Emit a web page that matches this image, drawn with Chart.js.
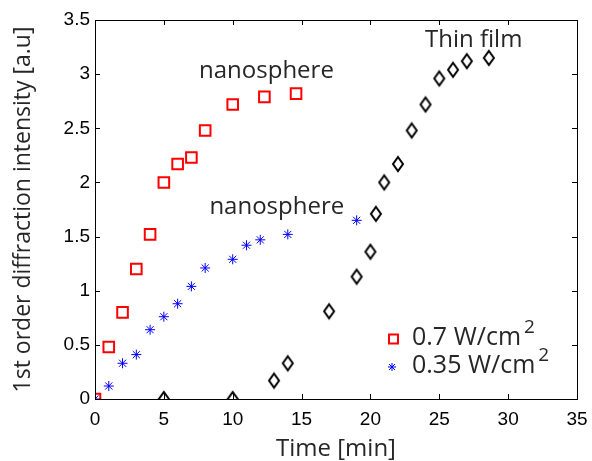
<!DOCTYPE html>
<html>
<head>
<meta charset="utf-8">
<script src="https://cdn.jsdelivr.net/npm/chart.js@4.4.0/dist/chart.umd.min.js"></script>
<style>
html, body { margin: 0; padding: 0; background: #fff; }
</style>
</head>
<body>
<canvas id="chart" width="592" height="461"></canvas>
<script>
// 0.7 W/cm2 (red squares)
const redTime = [0, 1, 2, 3, 4, 5, 6, 7, 8, 10, 12.3, 14.6];
const redValue = [0, 0.48, 0.8, 1.2, 1.52, 2.0, 2.17, 2.23, 2.48, 2.72, 2.79, 2.82];

// 0.35 W/cm2 (blue stars)
const blueTime = [0, 1, 2, 3, 4, 5, 6, 7, 8, 10, 11, 12, 14, 19];
const blueValue = [0, 0.12, 0.33, 0.41, 0.64, 0.76, 0.88, 1.04, 1.21, 1.29, 1.42, 1.47, 1.52, 1.65];

// thin film (black diamonds)
const filmTime = [5, 10, 13, 14, 17, 19, 20, 20.4, 21, 22, 23, 24, 25, 26, 27, 28.6];
const filmValue = [0, 0, 0.17, 0.33, 0.81, 1.13, 1.36, 1.71, 2.0, 2.17, 2.48, 2.72, 2.96, 3.04, 3.12, 3.15];

const xTicks = [0, 5, 10, 15, 20, 25, 30, 35];
const yTicks = [0, 0.5, 1, 1.5, 2, 2.5, 3, 3.5];

const textFont = '"Open Sans", "Noto Sans", sans-serif';
const tickFont = '"Liberation Sans", Arial, sans-serif';

function toPoints(xs, ys) {
	return xs.map((x, i) => ({ x: x, y: ys[i] }));
}

// MATLAB style diamond, a bit taller than wide
function diamondImage() {
	const c = document.createElement('canvas');
	c.width = 16; c.height = 20;
	const g = c.getContext('2d');
	g.strokeStyle = '#000';
	g.lineWidth = 2;
	g.beginPath();
	g.moveTo(8, 3);
	g.lineTo(13, 10);
	g.lineTo(8, 17);
	g.lineTo(3, 10);
	g.closePath();
	g.stroke();
	return c;
}

// text labels placed in data coordinates
const notes = [
	{ text: 'nanosphere', x: 12.45, y: 2.96 },
	{ text: 'nanosphere', x: 13.2, y: 1.71 },
	{ text: 'Thin film', x: 27.5, y: 3.25 }
];

const boxPlugin = {
	id: 'box',
	afterDatasetsDraw(chart) {
		const ctx = chart.ctx;
		const a = chart.chartArea;
		const xs = chart.scales.x, ys = chart.scales.y;
		ctx.save();
		ctx.strokeStyle = '#000';
		ctx.lineWidth = 1;
		ctx.beginPath();
		xTicks.forEach(v => {
			const px = Math.round(xs.getPixelForValue(v)) + 0.5;
			ctx.moveTo(px, a.bottom); ctx.lineTo(px, a.bottom - 5);
			ctx.moveTo(px, a.top); ctx.lineTo(px, a.top + 5);
		});
		yTicks.forEach(v => {
			const py = Math.round(ys.getPixelForValue(v)) + 0.5;
			ctx.moveTo(a.left, py); ctx.lineTo(a.left + 5, py);
			ctx.moveTo(a.right, py); ctx.lineTo(a.right - 5, py);
		});
		ctx.stroke();
		ctx.strokeRect(Math.round(a.left) + 0.5, Math.round(a.top) + 0.5,
			Math.round(a.right - a.left), Math.round(a.bottom - a.top));

		// annotations
		ctx.fillStyle = '#262626';
		ctx.font = '24px ' + textFont;
		ctx.textAlign = 'center';
		ctx.textBaseline = 'alphabetic';
		notes.forEach(n => {
			ctx.fillText(n.text, xs.getPixelForValue(n.x), ys.getPixelForValue(n.y));
		});

		// legend
		ctx.textAlign = 'left';
		const items = [
			{ label: '0.7 W/cm', y: 345, mark: 'rect' },
			{ label: '0.35 W/cm', y: 373, mark: 'star' }
		];
		items.forEach(it => {
			ctx.fillStyle = '#262626';
			ctx.font = '25px ' + textFont;
			ctx.fillText(it.label, 412, it.y);
			const w = ctx.measureText(it.label).width;
			ctx.font = '19px ' + textFont;
			ctx.fillText('2', 412 + w + 3, it.y - 12);
			const cy = it.y - 6;
			if (it.mark === 'rect') {
				ctx.strokeStyle = '#ff0000';
				ctx.lineWidth = 2;
				ctx.strokeRect(389, cy - 4.5, 9, 9);
			} else {
				ctx.strokeStyle = '#0000ff';
				ctx.lineWidth = 1;
				ctx.beginPath();
				ctx.moveTo(388, cy); ctx.lineTo(396, cy);
				ctx.moveTo(392, cy - 4); ctx.lineTo(392, cy + 4);
				ctx.moveTo(389, cy - 3); ctx.lineTo(395, cy + 3);
				ctx.moveTo(389, cy + 3); ctx.lineTo(395, cy - 3);
				ctx.stroke();
			}
		});
		ctx.restore();
	}
};

new Chart(document.getElementById('chart'), {
	type: 'scatter',
	data: {
		datasets: [
			{
				label: '0.7 W/cm2',
				data: toPoints(redTime, redValue),
				pointStyle: 'rect',
				pointRadius: 7.5,
				borderColor: '#ff0000',
				backgroundColor: 'rgba(0,0,0,0)',
				borderWidth: 2,
				clip: 0
			},
			{
				label: '0.35 W/cm2',
				data: toPoints(blueTime, blueValue),
				pointStyle: 'star',
				pointRadius: 5,
				borderColor: '#0000ff',
				backgroundColor: '#0000ff',
				borderWidth: 1,
				clip: 0
			},
			{
				label: 'Thin film',
				data: toPoints(filmTime, filmValue),
				pointStyle: diamondImage(),
				clip: 0
			}
		]
	},
	options: {
		responsive: false,
		animation: false,
		devicePixelRatio: 1,
		layout: { padding: { left: 0, right: 15, top: 20, bottom: 0 } },
		plugins: {
			legend: { display: false },
			tooltip: { enabled: false }
		},
		scales: {
			x: {
				type: 'linear',
				min: 0, max: 35,
				afterBuildTicks(scale) { scale.ticks = xTicks.map(v => ({ value: v })); },
				afterFit(scale) {
					scale.height = 62;
					scale.paddingLeft = 0;
					scale.paddingRight = 0;
				},
				grid: { display: false, drawTicks: false },
				border: { display: false },
				ticks: {
					color: '#000',
					padding: 9,
					maxRotation: 0,
					font: { family: tickFont, size: 19 },
					callback: v => String(v)
				},
				title: {
					display: true,
					text: 'Time [min]',
					color: '#262626',
					padding: { top: 0, bottom: 0 },
					font: { family: textFont, size: 24, lineHeight: 1 }
				}
			},
			y: {
				type: 'linear',
				min: 0, max: 3.5,
				afterBuildTicks(scale) { scale.ticks = yTicks.map(v => ({ value: v })); },
				afterFit(scale) {
					scale.width = 95;
					scale.paddingTop = 0;
					scale.paddingBottom = 0;
				},
				grid: { display: false, drawTicks: false },
				border: { display: false },
				ticks: {
					color: '#000',
					padding: 5,
					font: { family: tickFont, size: 19 },
					callback: v => String(v)
				},
				title: {
					display: true,
					text: '1st order diffraction intensity [a.u]',
					color: '#262626',
					padding: { top: 10, bottom: 0 },
					font: { family: textFont, size: 23 }
				}
			}
		}
	},
	plugins: [boxPlugin]
});
</script>
</body>
</html>
